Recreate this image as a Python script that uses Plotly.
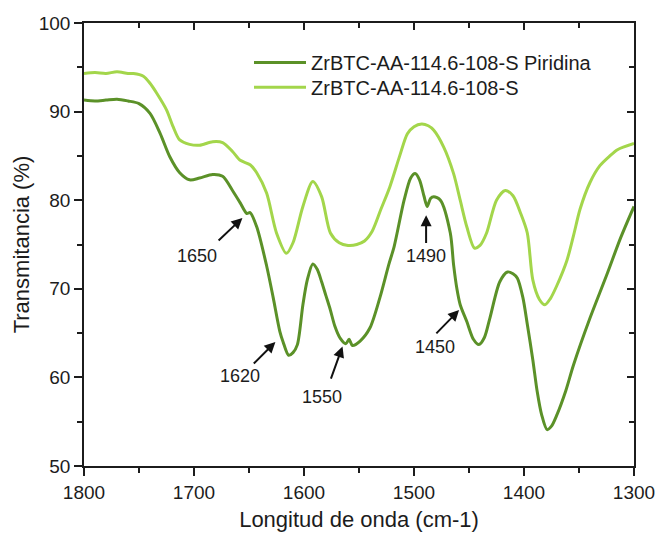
import plotly.graph_objects as go

# FTIR spectra, 1800-1300 cm-1
wn_pyr = [1800, 1790, 1780, 1770, 1760, 1750, 1740, 1731, 1722, 1713, 1704, 1695,
          1683, 1674, 1665, 1658, 1652, 1649, 1643, 1634, 1628, 1622, 1619, 1614,
          1610, 1606, 1601, 1597, 1592, 1588, 1584, 1580, 1576, 1572, 1567, 1562,
          1559, 1556, 1549, 1540, 1531, 1523, 1518, 1509, 1503, 1499, 1495, 1491,
          1488, 1485, 1482, 1476, 1467, 1464, 1461, 1458, 1452, 1446, 1441, 1436,
          1431, 1422, 1415, 1410, 1406, 1401, 1397, 1392, 1388, 1384, 1379, 1375,
          1370, 1362, 1355, 1340, 1325, 1312, 1300]
t_pyr = [91.3, 91.2, 91.3, 91.4, 91.2, 90.9, 89.8, 87.6, 84.9, 83.1, 82.3, 82.5,
         82.9, 82.7, 81.1, 79.7, 78.5, 78.6, 77.0, 72.6, 69.0, 65.2, 64.0, 62.5,
         62.8, 63.7, 68.2, 71.0, 72.8, 72.2, 70.8, 69.2, 67.6, 65.8, 64.4, 63.8,
         64.3, 63.6, 64.1, 65.6, 69.0, 72.7, 74.8, 80.0, 82.5, 83.0, 82.3, 80.5,
         79.3, 80.2, 80.4, 80.0, 76.3, 72.7, 70.0, 68.2, 66.3, 64.3, 63.7, 64.5,
         66.7, 70.8, 71.9, 71.7, 71.2, 69.0, 66.0, 62.0, 58.4, 55.8, 54.1, 54.5,
         55.8, 58.5, 61.4, 66.7, 71.5, 75.8, 79.3]

wn_ref = [1800, 1790, 1780, 1770, 1760, 1755, 1746, 1740, 1734, 1725, 1719, 1713,
          1704, 1695, 1683, 1674, 1665, 1658, 1649, 1643, 1634, 1625, 1616, 1610,
          1601, 1592, 1584, 1576, 1568, 1560, 1552, 1545, 1538, 1530, 1522, 1513,
          1506, 1500, 1493, 1487, 1482, 1473, 1464, 1458, 1452, 1445, 1440, 1434,
          1425, 1417, 1410, 1403, 1397, 1392, 1386, 1381, 1376, 1370, 1361, 1355,
          1349, 1340, 1331, 1322, 1315, 1300]
t_ref = [94.3, 94.4, 94.3, 94.5, 94.3, 94.3, 94.0, 93.2, 92.1, 90.2, 88.3, 86.8,
         86.3, 86.2, 86.6, 86.5, 85.5, 84.5, 84.0, 83.1, 80.8, 76.3, 74.0, 75.2,
         79.3, 82.1, 80.4, 76.3, 75.2, 74.9, 75.0, 75.4, 76.5, 79.0, 81.5, 85.0,
         87.5, 88.3, 88.6, 88.4, 87.9, 86.0, 83.0, 80.0, 77.0, 74.6, 74.9, 76.3,
         80.0, 81.1, 80.5, 78.5, 76.3, 71.0, 68.8, 68.2, 68.9, 70.4, 73.2, 76.0,
         79.0, 82.0, 83.9, 85.0, 85.7, 86.4]

# Marked bands: label, arrow tip (wn, T), arrow tail (wn, T), label centre (wn, T)
bands = ["1650", "1620", "1550", "1490", "1450"]
tip_wn = [1656, 1626, 1565, 1489, 1459]
tip_t = [78.0, 64.0, 63.5, 78.3, 67.6]
tail_wn = [1679, 1647, 1576, 1489, 1481]
tail_t = [75.3, 61.4, 59.7, 75.0, 64.8]
lab_wn = [1697, 1658, 1584, 1489, 1481]
lab_t = [73.7, 60.2, 57.8, 73.7, 63.4]

DARK = "#5b9128"
LIGHT = "#a3d64b"
INK = "#1c1c1c"
FONT = "Liberation Sans, Arial, sans-serif"

fig = go.Figure()
fig.add_trace(go.Scatter(x=wn_pyr, y=t_pyr, mode="lines",
                         name="ZrBTC-AA-114.6-108-S Piridina", legend="legend",
                         line=dict(color=DARK, width=3, shape="spline", smoothing=0.8)))
# second spectrum lives on the twin (top/right) axes, same ranges
fig.add_trace(go.Scatter(x=wn_ref, y=t_ref, mode="lines",
                         name="ZrBTC-AA-114.6-108-S", legend="legend2",
                         xaxis="x2", yaxis="y2",
                         line=dict(color=LIGHT, width=3, shape="spline", smoothing=0.8)))

for lab, xh, yh, xt, yt, xl, yl in zip(bands, tip_wn, tip_t, tail_wn, tail_t, lab_wn, lab_t):
    fig.add_annotation(x=xh, y=yh, ax=xt, ay=yt, xref="x", yref="y", axref="x", ayref="y",
                       text="", showarrow=True, arrowhead=2, arrowsize=1.1, arrowwidth=2,
                       arrowcolor="#111111", standoff=0, startstandoff=0)
    fig.add_annotation(x=xl, y=yl, xref="x", yref="y", text=lab, showarrow=False,
                       font=dict(size=18, color=INK, family=FONT))

xr = [1800, 1300]
yr = [50, 100]
leg_style = dict(xanchor="left", yanchor="middle", bgcolor="rgba(0,0,0,0)",
                 font=dict(size=20, color=INK, family=FONT), itemwidth=52)
fig.update_layout(
    width=657, height=535,
    margin=dict(l=84, r=23, t=23, b=69),
    paper_bgcolor="white", plot_bgcolor="rgba(0,0,0,0)",
    font=dict(family=FONT, color=INK),
    showlegend=True,
    legend=dict(x=0.300, y=0.911, **leg_style),
    legend2=dict(x=0.300, y=0.855, **leg_style),
    xaxis=dict(range=xr, dtick=100, ticks="outside", ticklen=8, tickwidth=2,
               tickcolor=INK, showline=True, linecolor=INK, linewidth=1.5, mirror=True,
               showgrid=False, zeroline=False, automargin=False,
               minor=dict(ticks="outside", ticklen=5, tickwidth=2, dtick=50,
                          tickcolor=INK),
               tickfont=dict(size=19, color=INK, family=FONT),
               title=dict(text="Longitud de onda (cm-1)", standoff=10,
                          font=dict(size=22, color=INK, family=FONT))),
    yaxis=dict(range=yr, dtick=10, ticks="outside", ticklen=8, tickwidth=2,
               tickcolor=INK, showline=True, linecolor=INK, linewidth=1.5, mirror=True,
               showgrid=False, zeroline=False, automargin=False,
               minor=dict(ticks="outside", ticklen=5, tickwidth=2, dtick=5,
                          tickcolor=INK),
               tickfont=dict(size=19, color=INK, family=FONT),
               title=dict(text="Transmitancia (%)", standoff=3,
                          font=dict(size=22, color=INK, family=FONT))),
    # twin axes on the top and right edges, ticks pointing into the plot
    xaxis2=dict(range=xr, anchor="y2", side="top", dtick=100,
                ticks="inside", ticklen=7, tickwidth=2, tickcolor=INK,
                showticklabels=False, showgrid=False, zeroline=False,
                minor=dict(ticks="inside", ticklen=5, tickwidth=2, dtick=50,
                           tickcolor=INK)),
    yaxis2=dict(range=yr, anchor="x2", side="right", dtick=10,
                ticks="inside", ticklen=7, tickwidth=2, tickcolor=INK,
                showticklabels=False, showgrid=False, zeroline=False,
                minor=dict(ticks="inside", ticklen=5, tickwidth=2, dtick=5,
                           tickcolor=INK)),
)

fig.write_html("out.html")
